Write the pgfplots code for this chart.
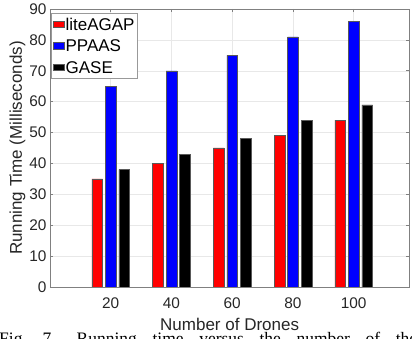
\documentclass[border=0pt]{standalone}
\usepackage{pgfplots}
\pgfplotsset{compat=1.18}
\usepackage{fontspec}
\setmainfont{Liberation Sans}
\newfontfamily\capfont{Liberation Serif}
\pgfplotsset{mylegend/.style={legend image code/.code={\draw[##1] (0pt,-3.3pt) rectangle (11pt,3.3pt);}}}
\begin{document}
\begin{tikzpicture}
\path[use as bounding box] (-50pt,-52pt) rectangle (362pt,287pt);
\clip (-50pt,-52pt) rectangle (362pt,287pt);
\begin{axis}[
  scale only axis, width=359.3pt, height=278pt,
  xmin=0, xmax=118.3, ymin=0, ymax=90,
  xtick={20,40,60,80,100}, ytick={0,10,...,90},
  xmajorgrids, ymajorgrids,
  grid style={line width=0.5pt, draw=black!9},
  axis line style={draw=black!50, line width=0.6pt},
  tick style={draw=black!50, line width=0.6pt},
  tick align=inside, major tick length=3.5pt,
  xtick pos=both, ytick pos=both,
  /pgf/number format/assume math mode=true,
  ticklabel style={font=\fontsize{15.4}{18}\selectfont, text=black!85},
  xticklabel style={anchor=base, yshift=-22pt},
  xlabel={Number of Drones}, ylabel={Running Time (Milliseconds)},
  every axis x label/.style={at={(rel axis cs:0.5,-0.1547)}, anchor=base, font=\fontsize{17}{20}\selectfont, text=black!85},
  every axis y label/.style={at={(rel axis cs:-0.0905,0.5)}, rotate=90, anchor=center, font=\fontsize{17}{20}\selectfont, text=black!85},
  legend style={at={(rel axis cs:0.0028,0.9867)}, anchor=north west, draw=black!40, line width=0.6pt, fill=white,
    font=\fontsize{17}{20}\selectfont, text=black, inner xsep=2pt, inner ysep=0.4pt, row sep=0pt,
    nodes={inner xsep=0.8pt, inner ysep=3pt, text height=13.7pt, text depth=1.9pt}},
  legend cell align=left,
]
\addplot[ybar, bar width=3.55, bar shift=-4.46, fill=red, draw=black!65, line width=0.5pt, mylegend]
  coordinates {(20,35) (40,40) (60,45) (80,49) (100,54)};
\addplot[ybar, bar width=3.55, bar shift=0, fill=blue, draw=black!65, line width=0.5pt, mylegend]
  coordinates {(20,65) (40,70) (60,75) (80,81) (100,86)};
\addplot[ybar, bar width=3.55, bar shift=4.46, fill=black, draw=black!65, line width=0.5pt, mylegend]
  coordinates {(20,38) (40,43) (60,48) (80,54) (100,59)};
\legend{liteAGAP, PPAAS, GASE}
\end{axis}
\node[anchor=base west, inner sep=0pt, font=\capfont\fontsize{17.5}{20}\selectfont] at (-51pt,-58pt)
  {\makebox[418pt][s]{Fig.~7.\hspace{1.2em}Running time versus the number of the}};
\end{tikzpicture}
\end{document}
